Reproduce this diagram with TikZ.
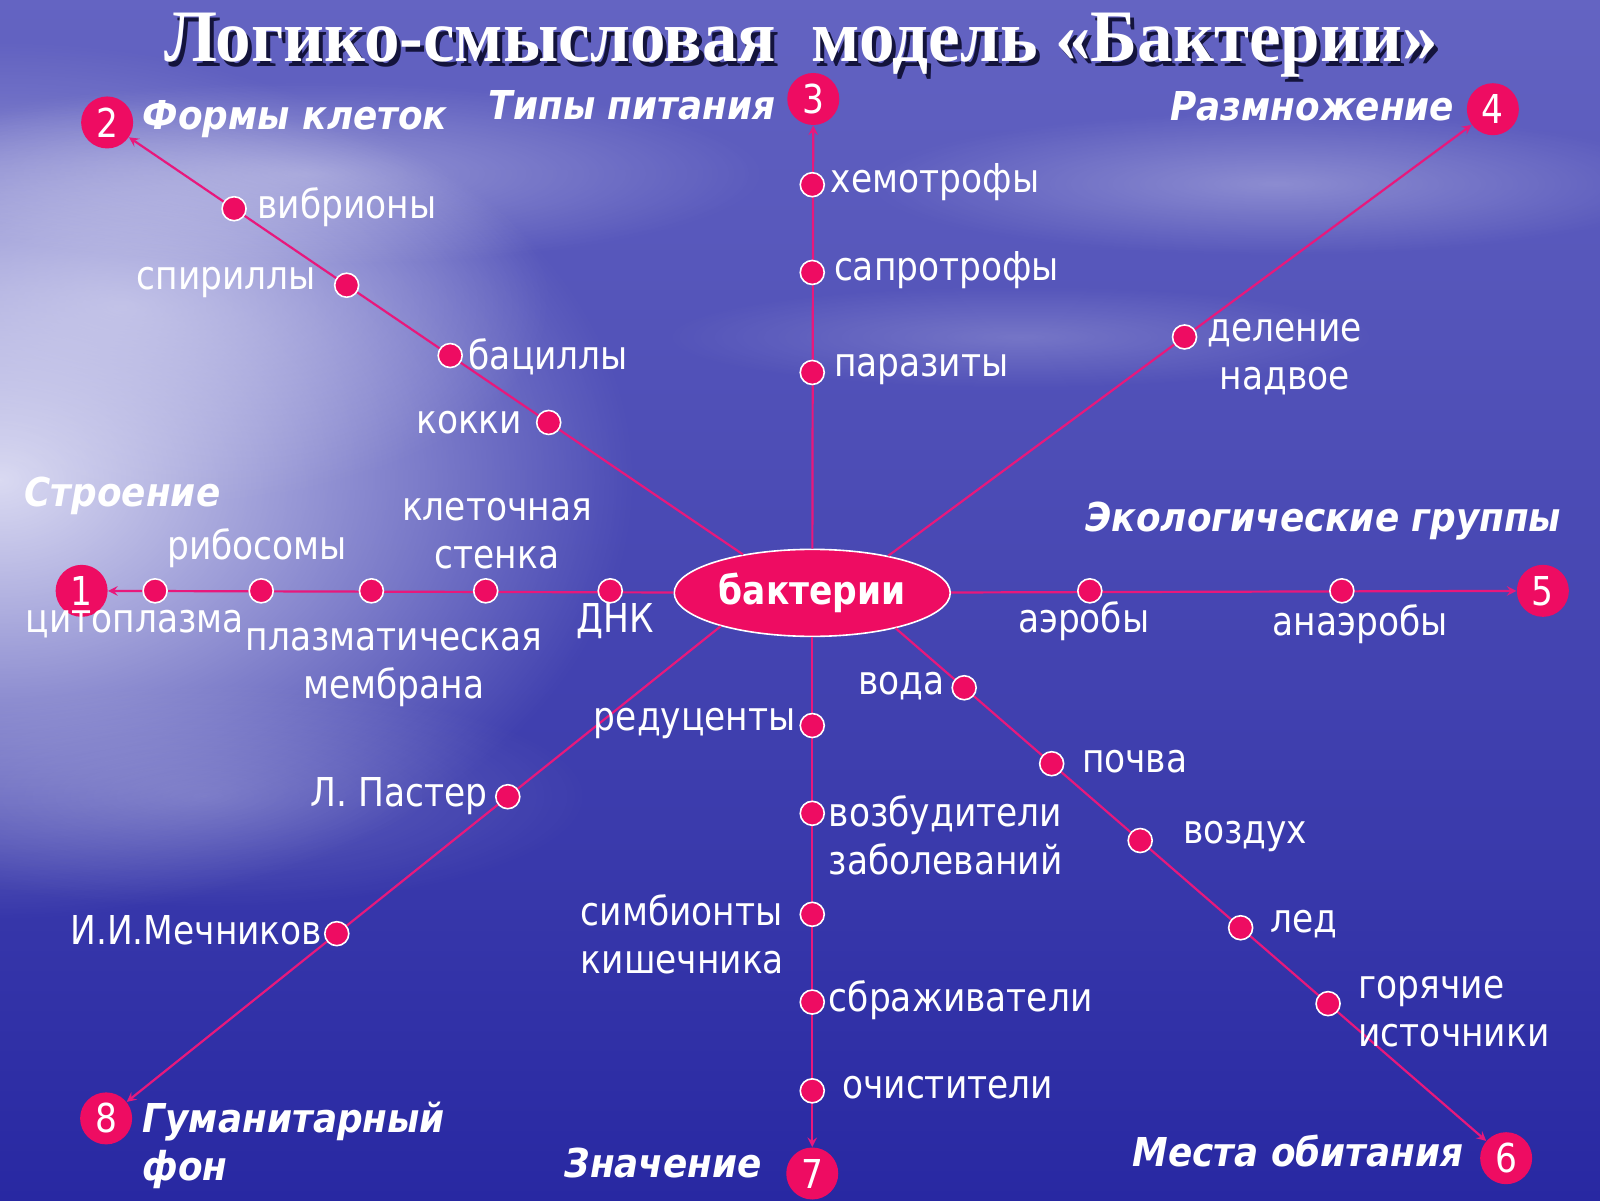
\documentclass[tikz,border=0pt]{standalone}
\usepackage{fontspec}
\setmainfont{DejaVu Sans}[FakeStretch=0.865]
\newfontfamily\headfont{DejaVu Sans}[FakeStretch=0.9]
\newfontfamily\titlefont{Liberation Serif}[FakeStretch=0.96]
\usepackage{tikz}
\usetikzlibrary{arrows,positioning,shapes,calc,fadings}
\definecolor{bgtop}{RGB}{100,100,194}
\definecolor{bgmid}{RGB}{62,62,178}
\definecolor{bgbot}{RGB}{40,40,162}
\definecolor{glow}{RGB}{218,218,242}
\definecolor{bpink}{RGB}{238,12,98}
\definecolor{bline}{RGB}{232,24,124}
\definecolor{shad}{RGB}{20,20,60}
\newcommand\lblsize{\fontsize{19.9}{24}\selectfont}
\newcommand\ttlsize{\fontsize{37}{42}\selectfont}
\tikzfading[name = softedge, inner color = transparent!0, outer color = transparent!100]

\begin{document}
\begin{tikzpicture}[x = .5102pt, y = -.5102pt, font = \lblsize, text = white,
    hub/.style = {ellipse, draw = white, thick, fill = bpink, font = \lblsize\bfseries,
      minimum width = 138pt, minimum height = 43.5pt, inner sep = 0pt},
    num/.style = {circle, fill = bpink, minimum size = 26pt, inner sep = 0pt},
    dot/.style = {circle, draw = white, thick, fill = bpink, minimum size = 12pt, inner sep = 0pt},
    head/.style = {font = \lblsize\headfont\bfseries\itshape},
    arr/.style = {->, >=stealth, line width = 1.1pt, draw = bline},
    lbl/.style = {inner sep = 1pt}]
    \useasboundingbox (0,0) rectangle (1568,1176);
    % background
    \shade[top color = bgtop, middle color = bgmid, bottom color = bgbot] (0,0) rectangle (1568,1176);
    \fill[glow, path fading = softedge] (0,470) ellipse (620 and 430);
    \fill[glow, path fading = softedge, opacity = .6] (120,300) ellipse (420 and 200);
    \fill[white, path fading = softedge, opacity = .35] (300,170) ellipse (450 and 90);
    \fill[white, path fading = softedge, opacity = .3] (1250,180) ellipse (400 and 70);
    \fill[white, path fading = softedge, opacity = .2] (1000,330) ellipse (350 and 50);
    \fill[white, path fading = softedge, opacity = .2] (200,780) ellipse (380 and 110);

    \node[shad, font = \titlefont\bfseries\ttlsize] at (789,49) {Логико-смысловая\ \ модель «Бактерии»};
    \node (title) [font = \titlefont\bfseries\ttlsize] at (785,44) {Логико-смысловая\ \ модель «Бактерии»};

    \node[hub] (b) at (796,581) {бактерии};
    \node[num] (n1) at (80,579) {1};
    \node[num] (n2) at (105,120) {2};
    \node[num] (n3) at (797,97) {3};
    \node[num] (n4) at (1463,107) {4};
    \node[num] (n5) at (1512,579) {5};
    \node[num] (n6) at (1476,1135) {6};
    \node[num] (n7) at (796,1150) {7};
    \node[num] (n8) at (104,1096) {8};

    \draw[arr] (b) -- (n1);
    \draw[arr] (b.151) -- (n2);
    \draw[arr] (b) -- (n3);
    \draw[arr] (b.26) -- (n4);
    \draw[arr] (b) -- (n5);
    \draw[arr] (b.-23) -- (n6);
    \draw[arr] (b) -- (n7);
    \draw[arr] (b.200) -- (n8);

    % 1 structure
    \node[head] (h1) at (120,486) {Строение};
    \foreach \x/\nm in {152/s1, 256/s2, 364/s3, 476/s4, 598/s5}
      \node[dot] (\nm) at (\x,579) {};
    \node[lbl] (ribo) at (252,537) {рибосомы};
    \node[lbl] (cyto) at (132,612) {цитоплазма};
    \node[lbl, align = center] (memb) at (386,654) {плазматическая\\мембрана};
    \node[lbl, align = center] (wall) at (487,523) {клеточная\\стенка};
    \node[lbl] (dna) at (603,609) {ДНК};

    % 2 cell forms
    \node[head, anchor = west] (h2) at (133,117) {Формы клеток};
    \node[dot] (f1) at ($(b.151)!(229,205)!(n2)$) {};
    \node[dot] (f2) at ($(b.151)!(340,279)!(n2)$) {};
    \node[dot] (f3) at ($(b.151)!(438,353)!(n2)$) {};
    \node[dot] (f4) at ($(b.151)!(537,415)!(n2)$) {};
    \node[lbl, anchor = west] at (250,203) {вибрионы};
    \node[lbl, anchor = east] at (312,277) {спириллы};
    \node[lbl, anchor = west] at (457,350) {бациллы};
    \node[lbl, anchor = east] at (514,414) {кокки};

    % 3 nutrition
    \node[head, anchor = east] (h3) at (767,103) {Типы питания};
    \foreach \y/\nm in {181/t1, 267/t2, 365/t3}
      \node[dot] (\nm) at (796,\y) {};
    \node[lbl, anchor = west] at (812,178) {хемотрофы};
    \node[lbl, anchor = west] at (815,265) {сапротрофы};
    \node[lbl, anchor = west] at (815,362) {паразиты};

    % 4 reproduction
    \node[head, anchor = east] (h4) at (1432,104) {Размножение};
    \node[dot] (r1) at ($(b.26)!(1160,329)!(n4)$) {};
    \node[lbl, align = center] at (1259,350) {деление\\надвое};

    % 5 ecological groups
    \node[head] (h5) at (1297,511) {Экологические группы};
    \node[dot] (e1) at (1068,579) {};
    \node[dot] (e2) at (1315,579) {};
    \node[lbl] at (1062,609) {аэробы};
    \node[lbl] at (1333,612) {анаэробы};

    % 6 habitats
    \node[head] (h6) at (1272,1128) {Места обитания};
    \foreach \x/\y/\nm in {944/675/m1, 1031/748/m2, 1118/823/m3, 1216/909/m4, 1302/983/m5}
      \node[dot] (\nm) at ($(b.-23)!(\x,\y)!(n6)$) {};
    \node[lbl, anchor = east] at (928,672) {вода};
    \node[lbl, anchor = west] at (1058,746) {почва};
    \node[lbl, anchor = west] at (1157,820) {воздух};
    \node[lbl, anchor = west] at (1243,906) {лед};
    \node[lbl, anchor = west, align = left] at (1329,991) {горячие\\источники};

    % 7 significance
    \node[head] (h7) at (650,1140) {Значение};
    \foreach \y/\nm in {711/z1, 797/z2, 896/z3, 982/z4, 1069/z5}
      \node[dot] (\nm) at (796,\y) {};
    \node[lbl, anchor = east] at (782,709) {редуценты};
    \node[lbl, anchor = west, align = left] at (810,819) {возбудители\\заболеваний};
    \node[lbl, anchor = west, align = left] at (567,916) {симбионты\\кишечника};
    \node[lbl, anchor = west] at (810,980) {сбраживатели};
    \node[lbl, anchor = west] at (823,1066) {очистители};

    % 8 humanities
    \node[head, anchor = west, align = left] (h8) at (133,1122) {Гуманитарный\\фон};
    \node[dot] (p1) at ($(b.200)!(501,785)!(n8)$) {};
    \node[dot] (p2) at ($(b.200)!(334,920)!(n8)$) {};
    \node[lbl, anchor = east] at (480,780) {Л. Пастер};
    \node[lbl, anchor = east] at (318,912) {И.И.Мечников};
\end{tikzpicture}
\end{document}
